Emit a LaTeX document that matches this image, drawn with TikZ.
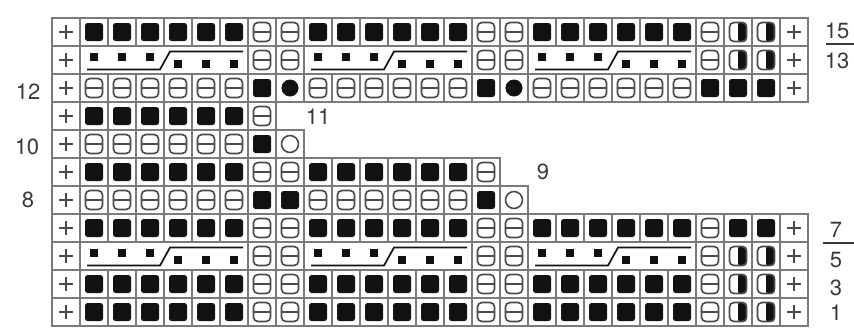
\documentclass[tikz,border=0pt]{standalone}
\usepackage{fontspec}
\setmainfont{TeX Gyre Heros}
\usetikzlibrary{positioning}
\definecolor{gridc}{HTML}{7A7A7A}
\definecolor{inkc}{HTML}{121212}
\definecolor{symc}{HTML}{4A4A4A}
\definecolor{labc}{HTML}{3A3A3A}
\tikzset{
  cell/.style     ={draw=gridc,line width=0.6pt,minimum width=14pt,minimum height=14pt,
                    inner sep=0pt,outer sep=0pt},
  lab/.style      ={text=labc,font=\fontsize{11}{13}\selectfont,inner sep=0pt},
  cableline/.style={inkc,line width=0.85pt},
  rulec/.style    ={labc,line width=0.65pt},
  pics/p/.style={code={\draw[symc,line width=1pt] (-7,0) -- (7,0) (0,-7) -- (0,7);}},
  pics/k/.style={code={\fill[inkc,rounded corners=1.3pt] (-9,-9) rectangle (9,9);}},
  pics/m/.style={code={\draw[symc,line width=0.8pt,rounded corners=2.2pt] (-8.5,-9.5) rectangle (8.5,9.5);
                       \draw[symc,line width=0.8pt] (-8.5,0) -- (8.5,0);}},
  pics/h/.style={code={\fill[inkc,rounded corners=1pt] (0,-9.5) rectangle (8.5,9.5);
                       \draw[symc,line width=0.8pt,rounded corners=2.2pt] (-8.5,-9.5) rectangle (8.5,9.5);}},
  pics/d/.style={code={\fill[inkc] (0,0) circle[radius=8.5];}},
  pics/o/.style={code={\draw[symc,line width=0.8pt] (0,0) circle[radius=8.5];}},
  pics/c/.style={code={}},
}
\begin{document}
\begin{tikzpicture}[x=0.5pt,y=-0.5pt]
\useasboundingbox (0,0) rectangle (854,328);
% chart rows, top to bottom
\foreach \row/\spec in {
  0/{p,k,k,k,k,k,k,m,m,k,k,k,k,k,k,m,m,k,k,k,k,k,k,m,h,h,p},
  1/{p,c,c,c,c,c,c,m,m,c,c,c,c,c,c,m,m,c,c,c,c,c,c,m,h,h,p},
  2/{p,m,m,m,m,m,m,k,d,m,m,m,m,m,m,k,d,m,m,m,m,m,m,k,k,k,p},
  3/{p,k,k,k,k,k,k,m},
  4/{p,m,m,m,m,m,m,k,o},
  5/{p,k,k,k,k,k,k,m,m,k,k,k,k,k,k,m},
  6/{p,m,m,m,m,m,m,k,k,m,m,m,m,m,m,k,o},
  7/{p,k,k,k,k,k,k,m,m,k,k,k,k,k,k,m,m,k,k,k,k,k,k,m,k,k,p},
  8/{p,c,c,c,c,c,c,m,m,c,c,c,c,c,c,m,m,c,c,c,c,c,c,m,h,h,p},
  9/{p,k,k,k,k,k,k,m,m,k,k,k,k,k,k,m,m,k,k,k,k,k,k,m,h,h,p},
  10/{p,k,k,k,k,k,k,m,m,k,k,k,k,k,k,m,m,k,k,k,k,k,k,m,h,h,p}}{
  \foreach \sym [count=\col] in \spec {
    \node[cell] (c-\row-\col) at ({38+28*\col},{32+28*\row}) {};
    \pic at (c-\row-\col) {\sym};
  }
}
% cables over six stitches
\foreach \row in {1,8}{
  \foreach \first in {2,10,18}{
    \pgfmathtruncatemacro\midcol{\first+2}
    \pgfmathtruncatemacro\lastcol{\first+5}
    \fill[white] ([shift={(0.9,0.9)}]c-\row-\first.north west) rectangle ([shift={(-0.9,-0.9)}]c-\row-\lastcol.south east);
    \foreach \i in {0,...,5}{
      \pgfmathtruncatemacro\cc{\first+\i}
      \pgfmathsetmacro\dy{\i<3 ? -3 : 4}
      \fill[inkc] ([shift={(-4,\dy-4)}]c-\row-\cc.center) rectangle ([shift={(4,\dy+4)}]c-\row-\cc.center);
    }
    \draw[cableline] ([shift={(7,9.5)}]c-\row-\first.west) -- ([shift={(-4,9.5)}]c-\row-\midcol.east)
      -- ([shift={(6,-8.5)}]c-\row-\midcol.east) -- ([shift={(-5,-8.5)}]c-\row-\lastcol.east);
  }
}
% row numbers
\node[lab] (l15) at (837,31) {15};
\node[lab] (l13) at (837,61) {13};
\node[lab] (l12) at (28,92) {12};
\node[lab] (l11) at (318,117) {11};
\node[lab] (l10) at (27,147) {10};
\node[lab] (l9) at (543,172) {9};
\node[lab] (l8) at (28,200) {8};
\node[lab] (l7) at (836,230) {7};
\node[lab] (l5) at (836,260) {5};
\node[lab] (l3) at (836,288) {3};
\node[lab] (l1) at (836,313) {1};
\draw[rulec] (826,44) -- (854,44);
\draw[rulec] (823,243) -- (854,243);
\end{tikzpicture}
\end{document}
